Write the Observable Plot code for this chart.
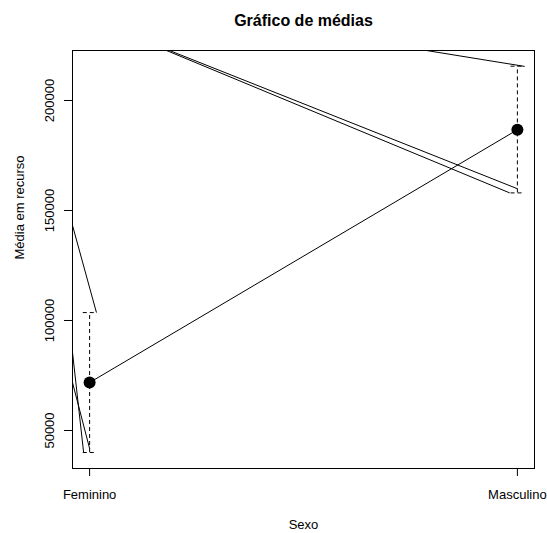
<!DOCTYPE html>
<html><head><meta charset="utf-8">
<script src="https://cdn.jsdelivr.net/npm/d3@7"></script>
<script src="https://cdn.jsdelivr.net/npm/@observablehq/plot@0.6"></script>
<style>html,body{margin:0;padding:0;background:#fff;}</style>
</head><body><div id="chart"></div>
<script>
const categories = ["Feminino", "Masculino"];
const means = [71800, 186700];
const ciLower = [40000, 158000];
const ciUpper = [103600, 215600];
const yTicks = [50000, 100000, 150000, 200000];
const title = "Gráfico de médias";
const xLabel = "Sexo";
const yLabel = "Média em recurso";
// stray segments seen in the reference (x in category-position units, y in value units)
const segX1 = [1.180, 1.187, 1.788, 0.960, 0.960, 0.960];
const segY1 = [222700, 222700, 222700, 143200, 85500, 71800];
const segX2 = [1.982, 2.000, 2.017, 1.016, 0.986, 1.000];
const segY2 = [158000, 159900, 215500, 103600, 40000, 41800];

const cap = 0.016;
const rows = categories.map((c, i) => ({x: i + 1, cat: c, mean: means[i], lo: ciLower[i], hi: ciUpper[i]}));
const segs = segX1.map((_, i) => ({x1: segX1[i], y1: segY1[i], x2: segX2[i], y2: segY2[i]}));

const chart = Plot.plot({
  width: 547, height: 533,
  marginLeft: 72, marginRight: 13, marginTop: 50, marginBottom: 65,
  style: {fontFamily: '"Liberation Sans", Arial, sans-serif', fontSize: "13px", background: "#fff", color: "#000"},
  x: {domain: [0.96, 2.04]},
  y: {domain: [32727, 222727]},
  marks: [
    Plot.frame({stroke: "#000"}),
    Plot.axisX({ticks: [1, 2], tickFormat: d => categories[d - 1], tickSize: 8, tickPadding: 13, label: null}),
    Plot.axisY({ticks: yTicks, tickFormat: d3.format("d"), tickSize: 8, tickPadding: 10.5, tickRotate: -90, label: null}),
    Plot.ruleX(rows, {x: "x", y1: "lo", y2: "hi", stroke: "#000", strokeWidth: 1, strokeDasharray: "4,3"}),
    Plot.link(rows, {x1: d => d.x - cap, x2: d => d.x + cap, y1: "lo", y2: "lo", stroke: "#000", strokeWidth: 1, strokeDasharray: "4,3"}),
    Plot.link(rows, {x1: d => d.x - cap, x2: d => d.x + cap, y1: "hi", y2: "hi", stroke: "#000", strokeWidth: 1, strokeDasharray: "4,3"}),
    Plot.link(segs, {x1: "x1", y1: "y1", x2: "x2", y2: "y2", stroke: "#000", strokeWidth: 1}),
    Plot.line(rows, {x: "x", y: "mean", stroke: "#000", strokeWidth: 1}),
    Plot.dot(rows, {x: "x", y: "mean", r: 6, fill: "#000", stroke: "none"}),
    Plot.text([title], {text: d => d, frameAnchor: "top", dy: -25, lineAnchor: "bottom", fontWeight: "bold", fontSize: 16}),
    Plot.text([xLabel], {text: d => d, frameAnchor: "bottom", dy: 60, lineAnchor: "bottom"}),
    Plot.text([yLabel], {text: d => d, frameAnchor: "left", dx: -49, rotate: -90, lineAnchor: "bottom"})
  ]
});
document.getElementById("chart").appendChild(chart);
</script>
</body></html>
